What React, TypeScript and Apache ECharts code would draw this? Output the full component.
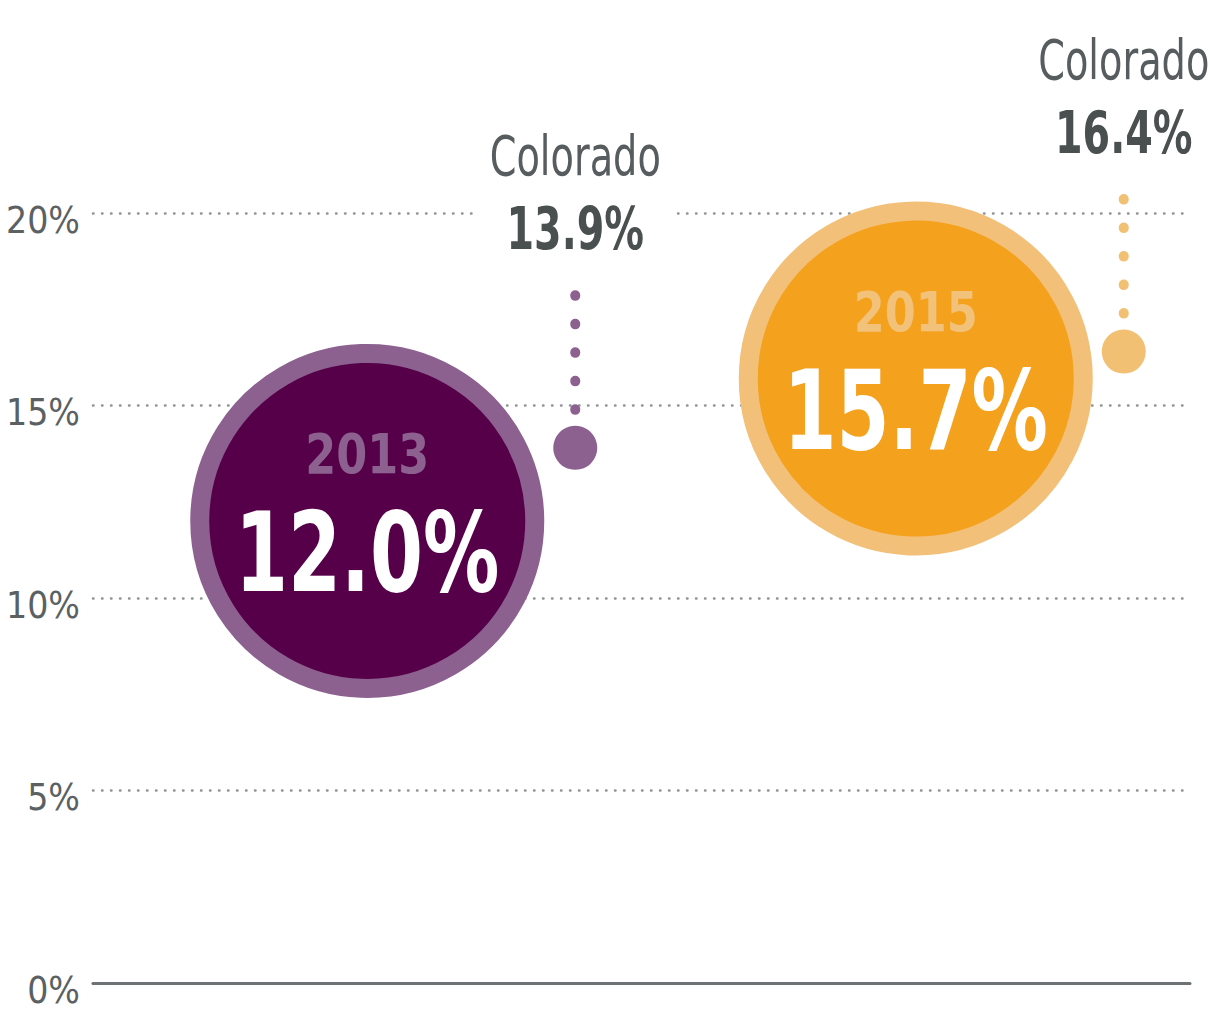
import React, { useEffect, useRef } from "react";
import * as echarts from "echarts";

// ---- data ----
const categories = ["2013", "2015"];
const nationalValues = [12.0, 15.7];
const coloradoValues = [13.9, 16.4];
const coloradoName = "Colorado";
const yTickValues = [0, 5, 10, 15, 20];

// ---- styles ----
const FONT = '"DejaVu Sans Condensed", "DejaVu Sans", sans-serif';
const palette = [
  { ring: "#8c6190", fill: "#57004a", year: "#8c6190", dot: "#8c6190" },
  { ring: "#f3c079", fill: "#f4a11e", year: "#f3c27a", dot: "#f2c073" },
];
const DOT_DX = 208;
const NARROW = 0.77;

export default function App() {
  const ref = useRef<HTMLDivElement>(null);
  useEffect(() => {
    if (!ref.current) return;
    const chart = echarts.init(ref.current, undefined, { renderer: "svg" });
    const option: any = {
      animation: false,
      backgroundColor: "#ffffff",
      grid: { left: 93, right: 20, top: 213, bottom: 27, containLabel: false, outerBoundsMode: "none" },
      xAxis: {
        type: "category",
        data: categories,
        boundaryGap: true,
        axisLine: { show: true, lineStyle: { color: "#6d7375", width: 3 } },
        axisTick: { show: false },
        axisLabel: { show: false },
        splitLine: { show: false },
      },
      yAxis: {
        type: "value",
        min: yTickValues[0],
        max: yTickValues[yTickValues.length - 1],
        interval: 5,
        axisLine: { show: false },
        axisTick: { show: false },
        axisLabel: {
          formatter: "{value}%",
          fontFamily: FONT,
          fontSize: 37,
          color: "#5b6163",
          margin: 13,
          verticalAlign: "top",
          lineHeight: 14,
        },
        splitLine: {
          show: true,
          lineStyle: { color: "#8f9495", width: 2.5, type: [0.5, 8.5], cap: "round" },
        },
      },
      series: [
        {
          name: "National",
          type: "custom",
          z: 5,
          clip: false,
          data: categories.map((c, i) => [c, nationalValues[i]]),
          encode: { x: 0, y: 1 },
          renderItem: (params: any, api: any) => {
            const i = params.dataIndex;
            const pt = api.coord([api.value(0), api.value(1)]);
            const x = pt[0];
            const y = pt[1];
            const p = palette[i];
            return {
              type: "group",
              children: [
                {
                  type: "circle",
                  shape: { cx: x, cy: y, r: 167.5 },
                  style: { fill: p.fill, stroke: p.ring, lineWidth: 19 },
                },
                {
                  type: "text",
                  x,
                  y: y - 67,
                  scaleX: 0.9,
                  style: {
                    text: categories[i],
                    fontFamily: FONT,
                    fontWeight: "bold",
                    fontSize: 55,
                    fill: p.year,
                    align: "center",
                    verticalAlign: "middle",
                  },
                },
                {
                  type: "text",
                  x,
                  y: y + 32,
                  scaleX: NARROW,
                  style: {
                    text: `${nationalValues[i].toFixed(1)}%`,
                    fontFamily: FONT,
                    fontWeight: "bold",
                    fontSize: 110,
                    fill: "#ffffff",
                    align: "center",
                    verticalAlign: "middle",
                  },
                },
              ],
            };
          },
        },
        {
          name: coloradoName,
          type: "custom",
          z: 6,
          clip: false,
          data: categories.map((c, i) => [c, coloradoValues[i]]),
          encode: { x: 0, y: 1 },
          renderItem: (params: any, api: any) => {
            const i = params.dataIndex;
            const pt = api.coord([api.value(0), api.value(1)]);
            const x = pt[0] + DOT_DX;
            const y = pt[1];
            const col = palette[i].dot;
            return {
              type: "group",
              children: [
                { type: "rect", shape: { x: x - 99, y: y - 316, width: 198, height: 143 }, style: { fill: "#ffffff" } },
                {
                  type: "line",
                  shape: { x1: x, y1: y - 38, x2: x, y2: y - 180 },
                  style: { stroke: col, lineWidth: 10, lineCap: "round", lineDash: [0.5, 28], fill: null },
                },
                { type: "circle", shape: { cx: x, cy: y, r: 22 }, style: { fill: col } },
                {
                  type: "text",
                  x,
                  y: y - 292,
                  scaleX: 0.76,
                  style: {
                    text: coloradoName,
                    fontFamily: FONT,
                    fontSize: 56,
                    fill: "#575c5e",
                    align: "center",
                    verticalAlign: "middle",
                  },
                },
                {
                  type: "text",
                  x,
                  y: y - 219,
                  scaleX: 0.76,
                  style: {
                    text: `${coloradoValues[i].toFixed(1)}%`,
                    fontFamily: FONT,
                    fontWeight: "bold",
                    fontSize: 58,
                    fill: "#4a4f50",
                    align: "center",
                    verticalAlign: "middle",
                  },
                },
              ],
            };
          },
        },
      ],
    };
    chart.setOption(option);
    return () => chart.dispose();
  }, []);
  return <div ref={ref} style={{ position: "absolute", left: 0, top: 0, width: 1210, height: 1010 }} />;
}
